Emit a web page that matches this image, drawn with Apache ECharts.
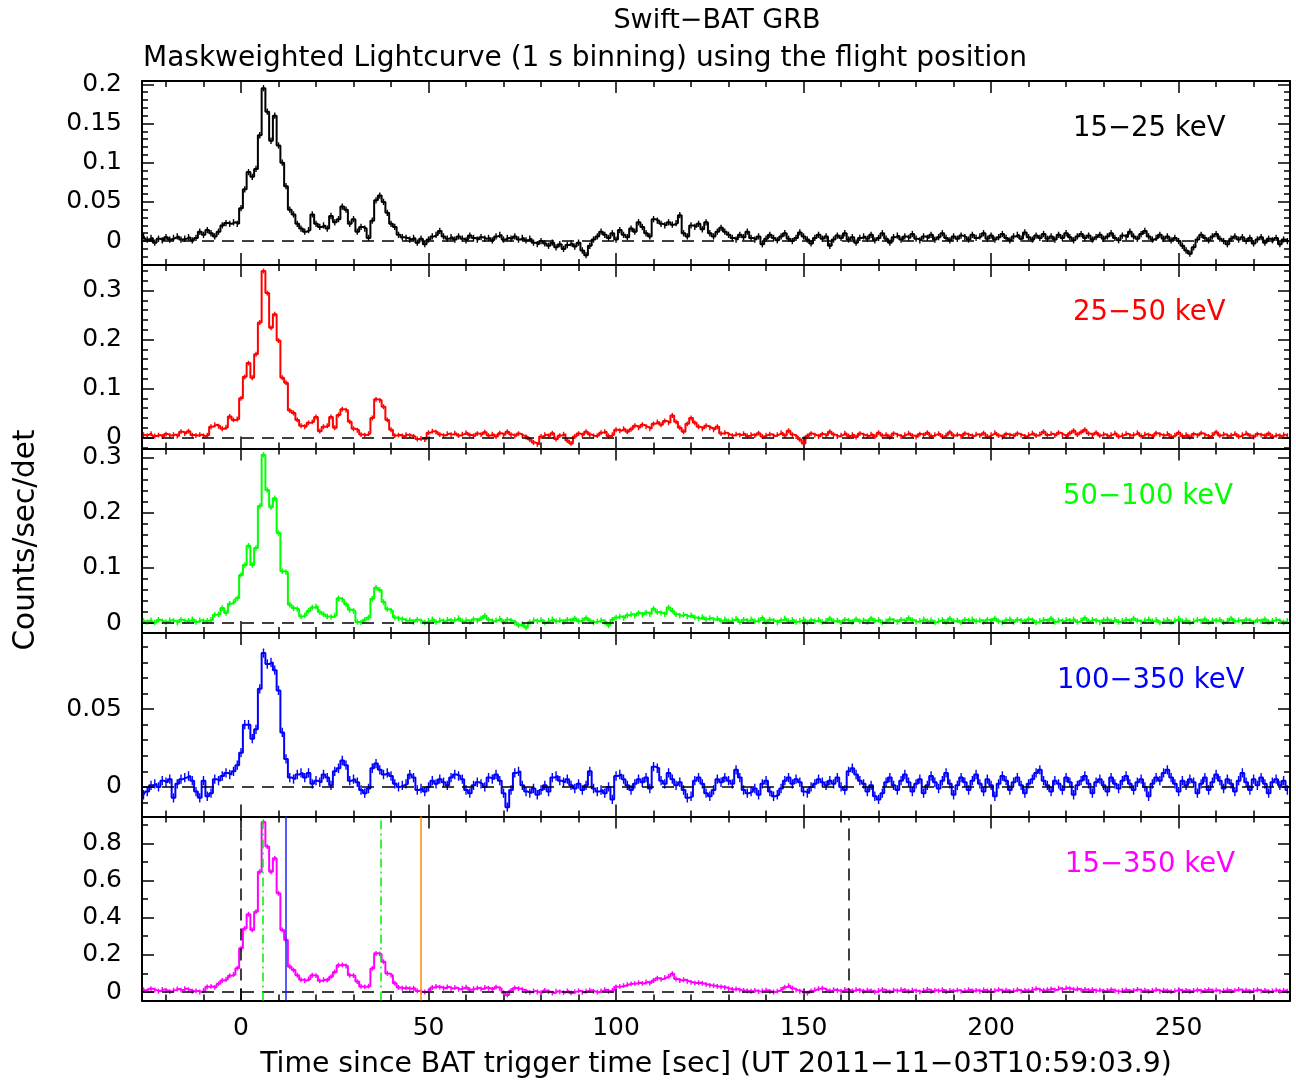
<!DOCTYPE html>
<html><head><meta charset="utf-8">
<script src="https://cdn.jsdelivr.net/npm/echarts@6/dist/echarts.min.js"></script>
<style>html,body{margin:0;padding:0;background:#fff}#chart{width:1296px;height:1084px}</style>
</head><body><div id="chart"></div>
<script>
// ---------------- DATA ----------------
const timeStart = -26; // time of first 1 s bin (s since trigger)
const rate15_25 = [
0.006,0.002,0.004,-0.002,0.003,0.001,0.005,0.002,0.004,0.006,
0.002,0.003,0.005,0.001,0.004,
0.012,0.008,0.014,0.010,0.006,0.012,
0.020,0.023,0.022,0.024,0.022,
0.042,0.066,0.088,0.082,0.092,0.135,0.195,0.165,0.128,0.160,
0.122,0.100,0.070,0.040,0.034,0.022,0.016,0.012,0.014,0.034,
0.022,0.018,0.020,0.016,0.032,0.024,0.028,0.044,0.040,0.022,
0.028,0.012,0.018,0.016,0.004,0.026,0.052,0.058,0.050,0.036,
0.022,0.018,0.008,0.005,0.004,0.002,0.004,-0.002,0.003,-0.004,
0.002,0.006,0.008,0.013,0.006,0.003,
0.005,0.002,0.006,0.003,0.001,0.007,0.004,0.002,0.005,0.003,
0.004,0.001,0.006,0.008,0.002,0.004,0.003,0.006,0.002,0.004,
0.001,0.003,-0.002,-0.004,0.000,-0.003,-0.006,-0.002,-0.008,-0.004,
-0.010,-0.005,-0.003,-0.007,-0.002,-0.012,-0.018,-0.006,0.002,0.006,
0.012,0.008,0.004,0.010,0.002,0.014,0.008,0.005,0.016,0.012,
0.024,0.018,0.010,0.006,0.028,0.026,0.022,0.020,0.024,0.021,
0.023,0.033,0.010,0.006,0.020,0.018,0.022,0.015,0.024,0.010,
0.006,0.012,0.017,0.012,0.008,0.004,0.002,0.008,0.005,0.012,
0.004,0.002,0.006,-0.004,0.003,0.008,0.004,0.001,0.006,0.010,
0.003,0.000,0.004,0.011,0.006,0.002,-0.003,0.004,0.008,0.003,
0.006,-0.006,0.002,0.007,0.004,0.010,0.002,0.005,-0.002,0.004,
0.006,0.003,0.008,0.001,0.004,0.010,0.003,-0.002,0.005,0.007,
0.002,0.006,0.004,0.009,0.003,0.001,0.006,0.004,0.008,0.002,
0.005,0.010,0.004,0.001,0.006,0.003,0.007,0.005,0.002,0.008,
0.004,0.006,0.010,0.003,0.007,0.002,0.005,0.009,0.004,0.001,
0.006,0.008,0.003,0.011,0.005,0.002,0.007,0.004,0.009,0.003,
0.006,0.002,0.008,0.004,0.010,0.005,0.001,0.006,0.009,0.004,
0.007,0.002,0.005,0.008,0.003,0.006,0.010,0.004,0.001,0.007,
0.005,0.012,0.006,0.003,0.009,0.013,0.006,0.002,0.004,0.008,
0.003,0.006,0.001,0.004,0.000,-0.006,-0.012,-0.016,-0.008,0.002,
0.008,0.004,0.001,0.006,0.009,0.003,0.000,-0.004,0.003,0.006,
0.002,0.005,0.000,0.004,-0.003,0.002,0.005,-0.002,0.003,0.001,
0.004,-0.004,0.002,0.000
];
const rate25_50 = [
0.006,0.004,0.008,0.003,0.005,0.002,0.007,0.004,0.006,0.003,
0.012,0.008,0.013,0.005,0.004,0.006,
0.003,0.005,0.022,0.026,0.023,
0.018,0.021,0.043,0.036,0.038,
0.080,0.124,0.152,0.122,0.170,0.235,0.340,0.295,0.224,0.252,
0.198,0.122,0.112,0.055,0.050,0.036,0.024,0.022,0.030,0.032,
0.042,0.013,0.022,0.024,0.042,0.020,0.046,0.058,0.056,0.032,
0.018,0.015,0.006,0.005,0.008,0.040,0.078,0.076,0.063,0.036,
0.016,0.004,0.005,0.003,0.006,0.004,0.002,-0.003,-0.002,-0.004,
0.010,0.013,0.011,0.006,0.004,0.008,
0.006,0.009,0.004,0.007,0.010,0.005,0.003,0.008,0.006,0.011,
0.004,0.007,0.002,0.009,0.005,0.012,0.006,0.003,0.008,0.004,
0.001,-0.004,-0.010,-0.014,0.002,0.006,0.003,0.009,-0.003,0.004,
0.007,-0.006,-0.012,0.002,0.008,0.005,0.012,0.006,0.003,0.004,
0.010,0.012,0.003,0.006,0.016,0.014,0.018,0.012,0.017,0.024,
0.020,0.026,0.022,0.018,0.028,0.032,0.026,0.034,0.030,0.045,
0.032,0.020,0.012,0.028,0.040,0.030,0.022,0.018,0.024,0.020,
0.016,0.022,0.008,0.010,0.006,0.004,0.007,0.005,0.008,0.003,
0.006,0.004,0.009,0.002,0.005,0.007,0.003,0.006,0.010,0.004,
0.014,0.006,0.002,-0.004,-0.012,0.003,0.008,0.005,0.002,0.007,
0.004,0.012,0.006,0.002,0.005,0.009,0.003,0.006,0.001,0.008,
0.005,0.003,0.007,0.002,0.010,0.004,0.006,0.001,0.008,0.005,
0.002,0.006,0.009,0.004,0.001,0.007,0.005,0.010,0.003,0.006,
0.008,0.002,0.005,0.011,0.004,0.006,0.002,0.008,0.005,0.003,
0.007,0.004,0.009,0.002,0.006,0.010,0.004,0.001,0.007,0.005,
0.003,0.008,0.005,0.002,0.006,0.009,0.004,0.007,0.012,0.005,
0.008,0.004,0.010,0.006,0.002,0.009,0.014,0.006,0.011,0.016,
0.008,0.005,0.010,0.004,0.007,0.003,0.006,0.009,0.002,0.005,
0.008,0.004,0.006,0.010,0.003,0.007,0.005,0.002,0.009,0.006,
0.004,0.008,0.002,0.005,0.010,0.003,0.006,0.001,0.007,0.004,
0.009,0.005,0.002,0.006,0.011,0.004,0.007,0.003,0.005,0.008,
0.002,0.006,0.009,0.004,0.001,0.007,0.005,0.003,0.008,0.002,
0.005,0.003,0.006,0.004
];
const rate50_100 = [
0.004,0.002,0.005,0.001,0.006,0.003,0.002,0.005,0.004,0.001,
0.006,0.003,0.004,0.007,0.002,0.005,0.003,0.004,
0.006,0.015,0.016,0.027,0.018,0.035,0.038,0.045,
0.087,0.105,0.140,0.105,0.136,0.212,0.305,0.241,0.210,0.226,
0.163,0.094,0.092,0.033,0.027,0.025,0.012,0.014,0.022,0.028,
0.030,0.020,0.016,0.012,0.011,0.014,0.045,0.042,0.034,0.024,
0.022,0.002,0.001,0.006,0.010,0.044,0.064,0.060,0.038,0.025,
0.022,0.010,0.008,0.007,0.004,0.005,0.002,0.006,0.003,0.001,
0.004,0.007,0.002,0.005,0.003,0.006,
0.004,0.006,0.009,0.003,0.005,0.002,0.007,0.004,0.008,0.013,
0.006,0.003,0.005,0.008,0.002,0.006,0.004,0.001,-0.004,-0.002,
-0.008,0.002,0.005,0.003,0.006,0.001,0.004,0.007,0.003,0.005,
0.002,0.006,0.004,0.008,0.003,0.005,0.009,0.004,0.001,0.003,
0.005,0.002,-0.004,0.006,0.010,0.012,0.009,0.014,0.016,0.013,
0.018,0.015,0.019,0.016,0.026,0.020,0.018,0.016,0.028,0.022,
0.016,0.013,0.015,0.012,0.014,0.010,0.008,0.011,0.007,0.009,
0.006,0.008,0.004,0.007,0.003,0.005,0.008,0.002,0.006,0.004,
0.007,0.003,0.005,0.009,0.002,0.006,0.004,0.001,0.005,0.008,
0.003,0.006,0.002,0.004,0.007,0.001,0.005,0.003,0.006,0.002,
0.004,0.008,0.003,0.005,0.001,0.006,0.004,0.002,0.007,0.003,
0.005,0.002,0.008,0.004,0.006,0.001,0.003,0.007,0.004,0.002,
0.006,0.003,0.009,0.005,0.002,0.004,0.007,0.003,0.005,0.001,
0.004,0.006,0.002,0.008,0.003,0.005,0.001,0.006,0.004,0.007,
0.003,0.005,0.002,0.006,0.004,0.008,0.003,0.001,0.005,0.007,
0.002,0.006,0.004,0.003,0.007,0.005,0.001,0.004,0.006,0.003,
0.008,0.002,0.005,0.003,0.006,0.004,0.007,0.002,0.005,0.009,
0.003,0.006,0.004,0.001,0.005,0.007,0.003,0.006,0.002,0.004,
0.006,0.003,0.008,0.004,0.002,0.005,0.007,0.003,0.006,0.001,
0.004,0.006,0.002,0.005,0.008,0.003,0.005,0.001,0.004,0.006,
0.003,0.007,0.002,0.005,0.004,0.006,0.001,0.004,0.008,0.003,
0.005,0.002,0.006,0.004,0.001,0.005,0.003,0.007,0.002,0.004,
0.006,0.003,0.001,0.004
];
const rate100_350 = [
-0.005,-0.003,0.001,0.002,0.000,0.004,0.003,0.005,-0.007,0.002,
0.005,0.006,0.007,0.004,-0.003,-0.007,0.004,-0.006,-0.004,0.005,
0.004,0.007,0.009,0.008,0.010,0.014,
0.022,0.040,0.040,0.031,0.037,0.063,0.086,0.079,0.080,0.075,
0.062,0.035,0.018,0.006,0.005,0.008,0.009,0.006,0.009,0.002,
0.004,0.003,0.008,0.006,0.001,0.010,0.012,0.017,0.014,0.004,
0.005,0.003,-0.002,-0.004,-0.001,0.012,0.015,0.011,0.008,0.009,
0.007,0.002,0.000,0.001,0.002,0.008,0.006,-0.002,-0.001,-0.003,
0.000,0.004,0.002,0.005,0.003,0.001,
0.006,0.008,0.007,0.005,-0.002,-0.004,0.001,0.003,0.002,0.000,
0.006,0.005,0.008,0.004,-0.004,-0.013,-0.002,0.009,0.010,0.001,
-0.003,-0.004,-0.001,-0.005,-0.002,0.001,-0.003,0.006,0.007,0.004,
0.003,0.005,0.001,-0.001,0.002,-0.002,0.001,0.010,-0.001,-0.003,
-0.002,-0.004,0.000,-0.008,0.007,0.008,0.005,0.001,-0.002,0.002,
0.005,0.003,0.006,-0.001,0.013,0.012,0.004,0.002,0.009,0.005,
0.001,0.003,-0.002,-0.007,-0.006,0.004,0.006,0.002,-0.004,-0.006,
-0.002,0.005,0.003,0.006,0.004,0.002,0.011,0.006,-0.002,-0.004,
-0.003,-0.001,-0.005,0.002,0.004,-0.003,-0.006,-0.005,-0.001,0.004,
0.006,0.002,0.005,0.003,-0.003,-0.004,0.000,0.002,0.005,0.003,
0.001,0.004,0.002,0.006,0.000,-0.002,0.010,0.012,0.008,0.004,
0.002,-0.003,0.001,-0.006,-0.008,-0.004,0.003,0.006,0.001,-0.002,
0.004,0.008,0.003,-0.003,0.002,0.005,-0.004,0.001,0.007,0.003,
-0.001,0.004,0.009,0.002,-0.005,0.001,0.006,0.003,-0.002,0.004,
0.008,0.002,-0.003,0.005,0.001,-0.006,0.002,0.007,0.004,-0.002,
0.003,0.006,0.001,-0.004,0.002,0.005,0.009,0.011,0.004,0.001,
-0.003,0.004,0.002,-0.002,0.006,0.003,-0.005,0.001,0.004,0.007,
0.002,-0.004,0.003,0.005,0.001,-0.003,0.006,0.002,-0.001,0.004,
0.007,0.002,-0.002,0.003,0.005,0.000,-0.006,0.002,0.006,0.004,
0.009,0.011,0.006,0.002,-0.003,0.004,0.001,0.005,0.003,-0.004,
0.002,0.006,-0.002,0.003,0.008,0.004,-0.001,0.005,0.002,-0.003,
0.004,0.009,0.003,-0.002,0.005,0.001,0.006,0.002,-0.004,0.003,
0.005,0.001,0.004,-0.002
];
const rate15_350 = [
0.012,0.006,0.018,0.010,0.004,0.014,0.008,0.002,0.010,0.016,
0.010,0.018,0.012,0.004,0.006,0.000,
0.008,0.028,0.030,0.025,0.045,
0.062,0.068,0.088,0.094,0.128,
0.235,0.342,0.418,0.334,0.432,0.647,0.915,0.782,0.647,0.719,
0.531,0.334,0.280,0.136,0.118,0.090,0.066,0.062,0.070,0.090,
0.088,0.060,0.066,0.064,0.082,0.108,0.144,0.146,0.140,0.090,
0.088,0.056,0.030,0.028,0.032,0.127,0.208,0.205,0.163,0.100,
0.090,0.047,0.024,0.020,0.022,0.018,0.020,0.006,0.002,0.000,
0.006,0.024,0.030,0.026,0.020,0.028,
0.018,0.024,0.014,0.020,0.026,0.012,0.018,0.022,0.016,0.024,
0.020,0.014,0.026,0.018,-0.004,-0.016,0.008,0.022,0.018,0.012,
0.004,-0.002,0.006,0.000,-0.004,0.008,0.002,-0.006,0.004,0.001,
-0.003,0.006,-0.005,0.002,0.007,-0.002,0.004,0.010,0.003,-0.001,
0.006,0.012,0.004,0.008,0.028,0.030,0.034,0.040,0.044,0.046,
0.050,0.046,0.054,0.048,0.062,0.074,0.068,0.078,0.084,0.098,
0.070,0.062,0.066,0.058,0.052,0.048,0.050,0.046,0.040,0.036,
0.034,0.030,0.028,0.024,0.018,0.014,0.016,0.010,0.008,0.006,
0.004,0.008,0.002,0.006,0.010,0.003,0.000,0.005,0.014,0.026,
0.034,0.020,0.010,0.004,-0.002,-0.006,0.006,0.012,0.018,0.020,
0.010,0.006,0.012,0.008,0.004,0.014,0.010,0.006,0.012,0.008,
0.004,0.010,0.006,0.000,0.008,0.014,0.005,0.002,0.010,0.006,
0.012,0.008,0.003,0.010,0.006,0.001,0.008,0.014,0.004,0.009,
0.006,0.012,0.002,0.008,0.005,0.010,0.003,0.007,0.012,0.006,
0.009,0.004,0.011,0.006,0.002,0.008,0.013,0.005,0.010,0.003,
0.007,0.012,0.004,0.009,0.006,0.014,0.018,0.010,0.008,0.012,
0.016,0.010,0.020,0.014,0.022,0.018,0.012,0.016,0.010,0.014,
0.008,0.012,0.006,0.010,0.004,0.009,0.013,0.006,0.002,0.008,
0.011,0.005,0.009,0.014,0.006,0.010,0.003,0.008,0.012,0.004,
0.010,0.006,0.002,0.007,0.012,0.005,0.009,0.003,0.008,0.011,
0.004,0.009,0.013,0.006,0.010,0.002,0.007,0.011,0.005,0.009,
0.014,0.006,0.010,0.003,0.008,0.012,0.005,0.009,0.002,0.006,
0.010,0.004,0.008,0.005
];
// typical 1-sigma error per band
const bandErrors = [0.004, 0.005, 0.005, 0.003, 0.013];
const bandNames = ['15\u221225 keV', '25\u221250 keV', '50\u2212100 keV', '100\u2212350 keV', '15\u2212350 keV'];
// tick labels
const xTickValues = [0, 50, 100, 150, 200, 250];
const yTickValues = [
  [0, 0.05, 0.1, 0.15, 0.2],
  [0, 0.1, 0.2, 0.3],
  [0, 0.1, 0.2, 0.3],
  [0, 0.05],
  [0, 0.2, 0.4, 0.6, 0.8]
];
// reference time markers in the 15-350 keV panel (s)
const markerTrigger = [0, 162];     // black dashed
const markerT90 = [5.7, 37.2];      // green dash-dot
const markerPeak = [11.9];          // blue
const markerEnd = [48.0];           // orange
const titleText = 'Swift\u2212BAT GRB';
const subtitleText = 'Maskweighted Lightcurve (1 s binning) using the flight position';
const xTitle = 'Time since BAT trigger time [sec] (UT 2011\u221211\u221203T10:59:03.9)';
const yTitle = 'Counts/sec/det';

// ---------------- LAYOUT ----------------
const FONT = 'DejaVu Sans';
const xMin = -26.4, xMax = 279.7;
const gridLeft = 142, gridWidth = 1148;
const panels = [
  {rates: rate15_25,   color: '#000000', top: 81,    height: 184,   min: -0.0305, max: 0.2042, minor: 0.01, lx: 1073, ly: 129},
  {rates: rate25_50,   color: '#ff0000', top: 265,   height: 183.5, min: -0.0224, max: 0.3524, minor: 0.02, lx: 1073, ly: 313},
  {rates: rate50_100,  color: '#00ff00', top: 448.5, height: 184.5, min: -0.0181, max: 0.3163, minor: 0.02, lx: 1063, ly: 497},
  {rates: rate100_350, color: '#0000ff', top: 633,   height: 183.5, min: -0.0190, max: 0.0989, minor: 0.01, lx: 1057, ly: 681},
  {rates: rate15_350,  color: '#ff00ff', top: 816.5, height: 184,   min: -0.0457, max: 0.9440, minor: 0.1,  lx: 1065, ly: 865}
];

function stepTicks(min, max, step) {
  const out = [];
  for (let k = Math.ceil(min / step - 1e-9); k * step <= max + 1e-9; k++) out.push(+(k * step).toFixed(6));
  return out;
}
const xMinor = stepTicks(xMin, xMax, 10);

const grids = [], xAxes = [], yAxes = [], series = [];
const tickStyle = {color: '#000', width: 1.5};
const majorLine = {show: true, onZero: false, lineStyle: {color: '#000', width: 2}};
const noLine = {show: false, onZero: false};
const labelStyle = {fontFamily: FONT, fontSize: 25, color: '#000'};

panels.forEach((p, i) => {
  grids.push({left: gridLeft, width: gridWidth, top: p.top, height: p.height, containLabel: false, outerBoundsMode: 'none'});
  const yMinor = stepTicks(p.min, p.max, p.minor);
  const isLast = i === panels.length - 1;
  [['bottom', true], ['bottom', false], ['top', true], ['top', false]].forEach(([pos, major]) => {
    xAxes.push({
      type: 'value', gridIndex: i, position: pos, min: xMin, max: xMax,
      axisLine: major ? majorLine : noLine,
      axisTick: {show: true, inside: true, length: major ? 12 : 6, lineStyle: tickStyle,
                 customValues: major ? xTickValues : xMinor},
      axisLabel: (major && pos === 'bottom' && isLast)
        ? Object.assign({show: true, margin: 15, customValues: xTickValues, formatter: v => String(v)}, labelStyle)
        : {show: false},
      splitLine: {show: false}
    });
  });
  [['left', true], ['left', false], ['right', true], ['right', false]].forEach(([pos, major]) => {
    yAxes.push({
      type: 'value', gridIndex: i, position: pos, min: p.min, max: p.max,
      axisLine: major ? majorLine : noLine,
      axisTick: {show: true, inside: true, length: major ? 12 : 6, lineStyle: tickStyle,
                 customValues: major ? yTickValues[i] : yMinor},
      axisLabel: (major && pos === 'left')
        ? Object.assign({show: true, margin: 20, customValues: yTickValues[i], formatter: v => String(v)}, labelStyle)
        : {show: false},
      splitLine: {show: false}
    });
  });

  const pts = p.rates.map((v, k) => [timeStart + k, v]);
  series.push({
    type: 'line', xAxisIndex: i * 4, yAxisIndex: i * 4, data: pts, step: 'middle',
    symbol: 'none', lineStyle: {color: p.color, width: 2}, itemStyle: {color: p.color},
    z: 3, silent: true,
    markLine: {
      silent: true, symbol: 'none', label: {show: false}, animation: false,
      lineStyle: {color: '#000', type: [12, 8], width: 1.5},
      data: [{yAxis: 0}]
    }
  });
  series.push({
    type: 'custom', xAxisIndex: i * 4, yAxisIndex: i * 4, silent: true, clip: true, z: 2,
    data: p.rates.map((v, k) => [timeStart + k, v, bandErrors[i]]),
    renderItem: (params, api) => {
      const t = api.value(0), v = api.value(1), e = api.value(2);
      const a = api.coord([t, v + e]), b = api.coord([t, v - e]);
      return {type: 'line', shape: {x1: a[0], y1: a[1], x2: b[0], y2: b[1]},
              style: {stroke: p.color, lineWidth: 1.4}};
    }
  });
  if (isLast) {
    series.push({
      type: 'line', xAxisIndex: i * 4, yAxisIndex: i * 4, data: [], z: 5,
      markLine: {
        silent: true, symbol: 'none', label: {show: false}, animation: false,
        data: [].concat(
          markerTrigger.map(t => ({xAxis: t, lineStyle: {color: '#000', type: [12, 8], width: 1.5}})),
          markerT90.map(t => ({xAxis: t, lineStyle: {color: '#00ee00', type: [9, 4, 2, 4], width: 1.5}})),
          markerPeak.map(t => ({xAxis: t, lineStyle: {color: '#2020ff', type: 'solid', width: 1.5}})),
          markerEnd.map(t => ({xAxis: t, lineStyle: {color: '#ff8c00', type: 'solid', width: 1.5}}))
        )
      }
    });
  }
});

const graphic = [
  {type: 'text', x: 717, y: 21, style: {text: titleText, fontFamily: FONT, fontSize: 27, fill: '#000', textAlign: 'center', textVerticalAlign: 'middle'}},
  {type: 'text', x: 143, y: 59, style: {text: subtitleText, fontFamily: FONT, fontSize: 28, fill: '#000', textAlign: 'left', textVerticalAlign: 'middle'}},
  {type: 'text', x: 716, y: 1065, style: {text: xTitle, fontFamily: FONT, fontSize: 28.3, fill: '#000', textAlign: 'center', textVerticalAlign: 'middle'}},
  {type: 'text', x: 26, y: 540, rotation: Math.PI / 2, style: {text: yTitle, fontFamily: FONT, fontSize: 29.5, fill: '#000', textAlign: 'center', textVerticalAlign: 'middle'}}
];
panels.forEach((p, i) => {
  graphic.push({type: 'text', x: p.lx, y: p.ly, z: 10,
    style: {text: bandNames[i], fontFamily: FONT, fontSize: 27.5, fill: p.color, textAlign: 'left', textVerticalAlign: 'middle'}});
});

const chart = echarts.init(document.getElementById('chart'), null, {renderer: 'canvas'});
chart.setOption({
  animation: false,
  backgroundColor: '#ffffff',
  grid: grids, xAxis: xAxes, yAxis: yAxes, series: series, graphic: graphic
});
</script>
</body></html>
